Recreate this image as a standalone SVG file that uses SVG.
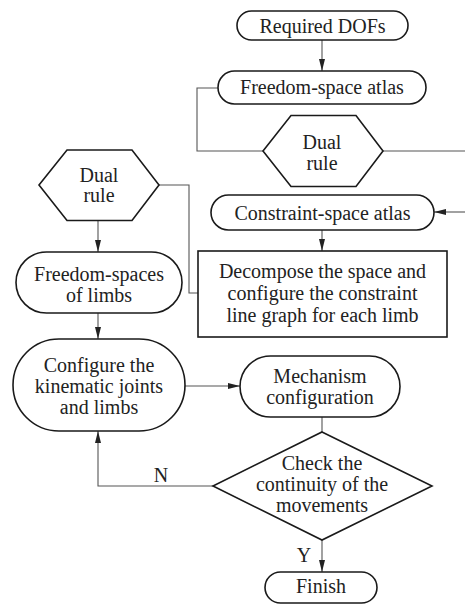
<svg xmlns="http://www.w3.org/2000/svg" width="465" height="606" viewBox="0 0 465 606">
<style>
.n{fill:#fff;stroke:#1a1a1a;stroke-width:1.6}
.c{fill:none;stroke:#555;stroke-width:1.1}
text{font-family:"Liberation Serif","Times New Roman",serif;font-size:20px;fill:#222;text-anchor:middle}
</style>
<defs>
<marker id="a" markerUnits="userSpaceOnUse" markerWidth="12" markerHeight="8" refX="12" refY="4" orient="auto">
<path d="M0,1 L12,4 L0,7 Z" fill="#222"/>
</marker>
</defs>
<rect width="465" height="606" fill="#fff"/>
<g id="connectors">
<path class="c" d="M322,40 V71" marker-end="url(#a)"/>
<path class="c" d="M218,88 H197 V151 H263"/>
<path class="c" d="M383,151 H465"/>
<path class="c" d="M465,212 H434" marker-end="url(#a)"/>
<path class="c" d="M322,230 V251" marker-end="url(#a)"/>
<path class="c" d="M159,185 H189 V293 H198"/>
<path class="c" d="M98,220.5 V252" marker-end="url(#a)"/>
<path class="c" d="M98,313 V339" marker-end="url(#a)"/>
<path class="c" d="M185,386 H240" marker-end="url(#a)"/>
<path class="c" d="M322,417 V432"/>
<path class="c" d="M213,486 H98 V431" marker-end="url(#a)"/>
<path class="c" d="M322,540 V572" marker-end="url(#a)"/>
<text x="161" y="482">N</text>
<text x="304" y="562">Y</text>
</g>
<g id="required">
<rect class="n" x="237" y="11" width="171" height="29" rx="14.5"/>
<text x="322.5" y="33">Required DOFs</text>
</g>
<g id="freedom-atlas">
<rect class="n" x="218" y="71" width="208" height="33" rx="16.5"/>
<text x="322" y="94">Freedom-space atlas</text>
</g>
<g id="dual-top">
<polygon class="n" points="263,151 291,115.5 356,115.5 383,151 356,186.5 291,186.5"/>
<text x="322" y="149">Dual</text>
<text x="322" y="170">rule</text>
</g>
<g id="constraint-atlas">
<rect class="n" x="211" y="195" width="223" height="35" rx="17.5"/>
<text x="322.5" y="220">Constraint-space atlas</text>
</g>
<g id="decompose">
<rect class="n" x="198" y="251" width="249" height="86"/>
<text x="322.5" y="278">Decompose the space and</text>
<text x="322.5" y="300">configure the constraint</text>
<text x="322.5" y="322">line graph for each limb</text>
</g>
<g id="dual-left">
<polygon class="n" points="39,185 67,150 132,150 159,185 132,220.5 67,220.5"/>
<text x="99" y="182">Dual</text>
<text x="99" y="202">rule</text>
</g>
<g id="freedom-limbs">
<rect class="n" x="16" y="252" width="166" height="61" rx="30.5"/>
<text x="99" y="281">Freedom-spaces</text>
<text x="99" y="302">of limbs</text>
</g>
<g id="configure">
<rect class="n" x="13" y="339" width="172" height="92" rx="46"/>
<text x="99" y="372">Configure the</text>
<text x="99" y="393">kinematic joints</text>
<text x="99" y="414">and limbs</text>
</g>
<g id="mechanism">
<rect class="n" x="240" y="356" width="160" height="61" rx="30.5"/>
<text x="320" y="383">Mechanism</text>
<text x="320" y="404">configuration</text>
</g>
<g id="check">
<polygon class="n" points="322,432 432,486 322,540 213,486"/>
<text x="322" y="470">Check the</text>
<text x="322" y="491">continuity of the</text>
<text x="322" y="512">movements</text>
</g>
<g id="finish">
<rect class="n" x="265" y="572" width="112" height="31" rx="15.5"/>
<text x="321" y="593">Finish</text>
</g>
</svg>
